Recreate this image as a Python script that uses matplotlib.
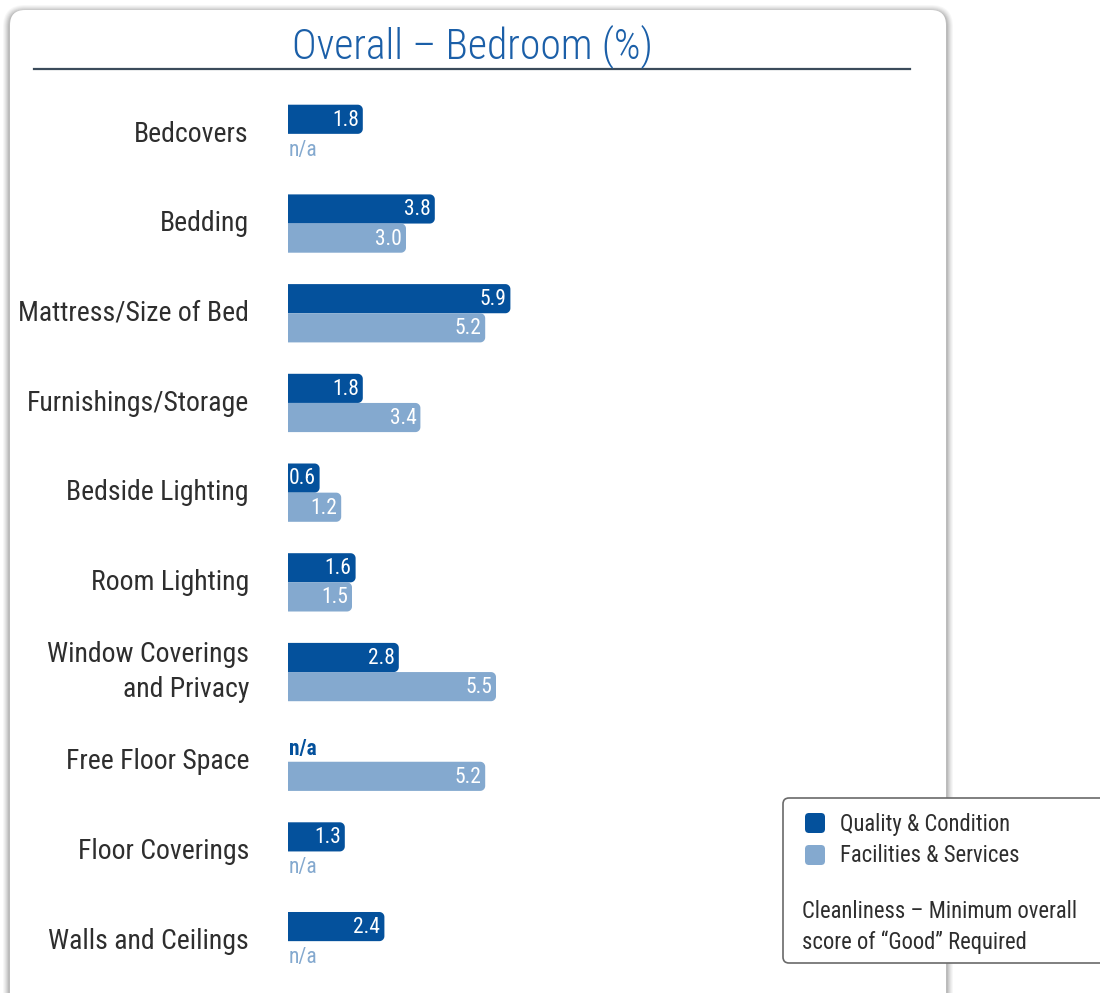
import matplotlib
matplotlib.use("Agg")
import numpy as np
import matplotlib.pyplot as plt
from matplotlib.patches import FancyBboxPatch, Polygon

# condensed face first, fallbacks after
plt.rcParams['font.family'] = ['Roboto Condensed', 'Archivo Narrow', 'PT Sans Narrow',
                               'Liberation Sans Narrow', 'DejaVu Sans']

# chart data
title = "Overall – Bedroom (%)"
categories = ["Bedcovers", "Bedding", "Mattress/Size of Bed", "Furnishings/Storage",
              "Bedside Lighting", "Room Lighting", "Window Coverings\nand Privacy",
              "Free Floor Space", "Floor Coverings", "Walls and Ceilings"]
quality = [1.8, 3.8, 5.9, 1.8, 0.6, 1.6, 2.8, None, 1.3, 2.4]
facilities = [None, 3.0, 5.2, 3.4, 1.2, 1.5, 5.5, 5.2, None, None]
series_names = ["Quality & Condition", "Facilities & Services"]
note = "Cleanliness – Minimum overall\nscore of “Good” Required"

dark = "#04519c"
light = "#84a9cf"
text_col = "#2e2e2e"
title_col = "#1b5fa8"

W, H = 1100, 993
fig = plt.figure(figsize=(W / 100, H / 100), dpi=100)
fig.patch.set_facecolor("white")

# background / card drawn in pixel coords
bg = fig.add_axes([0, 0, 1, 1])
bg.set_xlim(0, W)
bg.set_ylim(H, 0)
bg.axis("off")

# soft shadow round the card
for i, a in enumerate([0.03, 0.035, 0.04, 0.05, 0.06, 0.07]):
    p = 7 - i
    bg.add_patch(FancyBboxPatch((10 - p, 10 - p + 2), 936 + 2 * p, 1020,
                                boxstyle="round,pad=0,rounding_size=%d" % (15 + p),
                                fc="black", ec="none", alpha=a))
bg.add_patch(FancyBboxPatch((10, 10), 936, 1020, boxstyle="round,pad=0,rounding_size=15",
                            fc="white", ec="none"))

bg.text(472, 46, title, ha="center", va="center", fontsize=30, color=title_col,
        fontweight="light")
bg.plot([34, 910], [69, 69], color="#3b4b5b", lw=1.6)

# legend box
bg.add_patch(FancyBboxPatch((783, 798), 340, 165, boxstyle="round,pad=0,rounding_size=6",
                            fc="white", ec="#6a6a6a", lw=1.2))
for k, (name, col) in enumerate(zip(series_names, [dark, light])):
    y = 823 + 32 * k
    bg.add_patch(FancyBboxPatch((805, y - 10), 20, 20, boxstyle="round,pad=0,rounding_size=4",
                                fc=col, ec="none"))
    bg.text(840, y + 1, name, ha="left", va="center", fontsize=16.3, color=text_col)
bg.text(802, 927, note, ha="left", va="center", fontsize=16.3, color=text_col, linespacing=1.4)

# bar axes
scale = 36.0         # px per unit
base = 10 / scale    # small offset so short bars fit their labels
left_px, top_px, bot_px = 288, 89, 986
ax = fig.add_axes([left_px / W, 1 - bot_px / H, 640 / W, (bot_px - top_px) / H])
ax.set_xlim(-base, -base + 640 / scale)
ax.set_ylim(len(categories) - 0.5, -0.5)
ax.axis("off")
ax.patch.set_alpha(0)

bh = 0.325
rx = 5 / scale
ry = 5 / 89.7
t = np.linspace(0, np.pi / 2, 10)


def bar(yc, v, col):
    # square left end, rounded right end
    x0, y0, y1 = -base, yc - bh / 2, yc + bh / 2
    xs = [x0] + list(v - rx + rx * np.sin(t)) + list(v - rx + rx * np.cos(t)) + [x0]
    ys = [y0] + list(y0 + ry - ry * np.cos(t)) + list(y1 - ry + ry * np.sin(t)) + [y1]
    ax.add_patch(Polygon(np.column_stack([xs, ys]), closed=True, fc=col, ec="none"))
    ax.text(v - 4 / scale, yc + 0.01, "%.1f" % v, ha="right", va="center",
            fontsize=15.5, color="white")


for i, cat in enumerate(categories):
    y_q = i - bh / 2
    y_f = i + bh / 2
    for yc, v, col in [(y_q, quality[i], dark), (y_f, facilities[i], light)]:
        if v is None:
            ax.text(-base + 1 / scale, yc + 0.02, "n/a", ha="left", va="center", fontsize=15.5,
                    color=col, fontweight="bold" if col == dark else "normal")
        else:
            bar(yc, v, col)
    bg.text(249, 134 + 89.67 * i, cat, ha="right", va="center", fontsize=20,
            color=text_col, linespacing=1.4)

fig.savefig("out.png", dpi=100, facecolor="white")
